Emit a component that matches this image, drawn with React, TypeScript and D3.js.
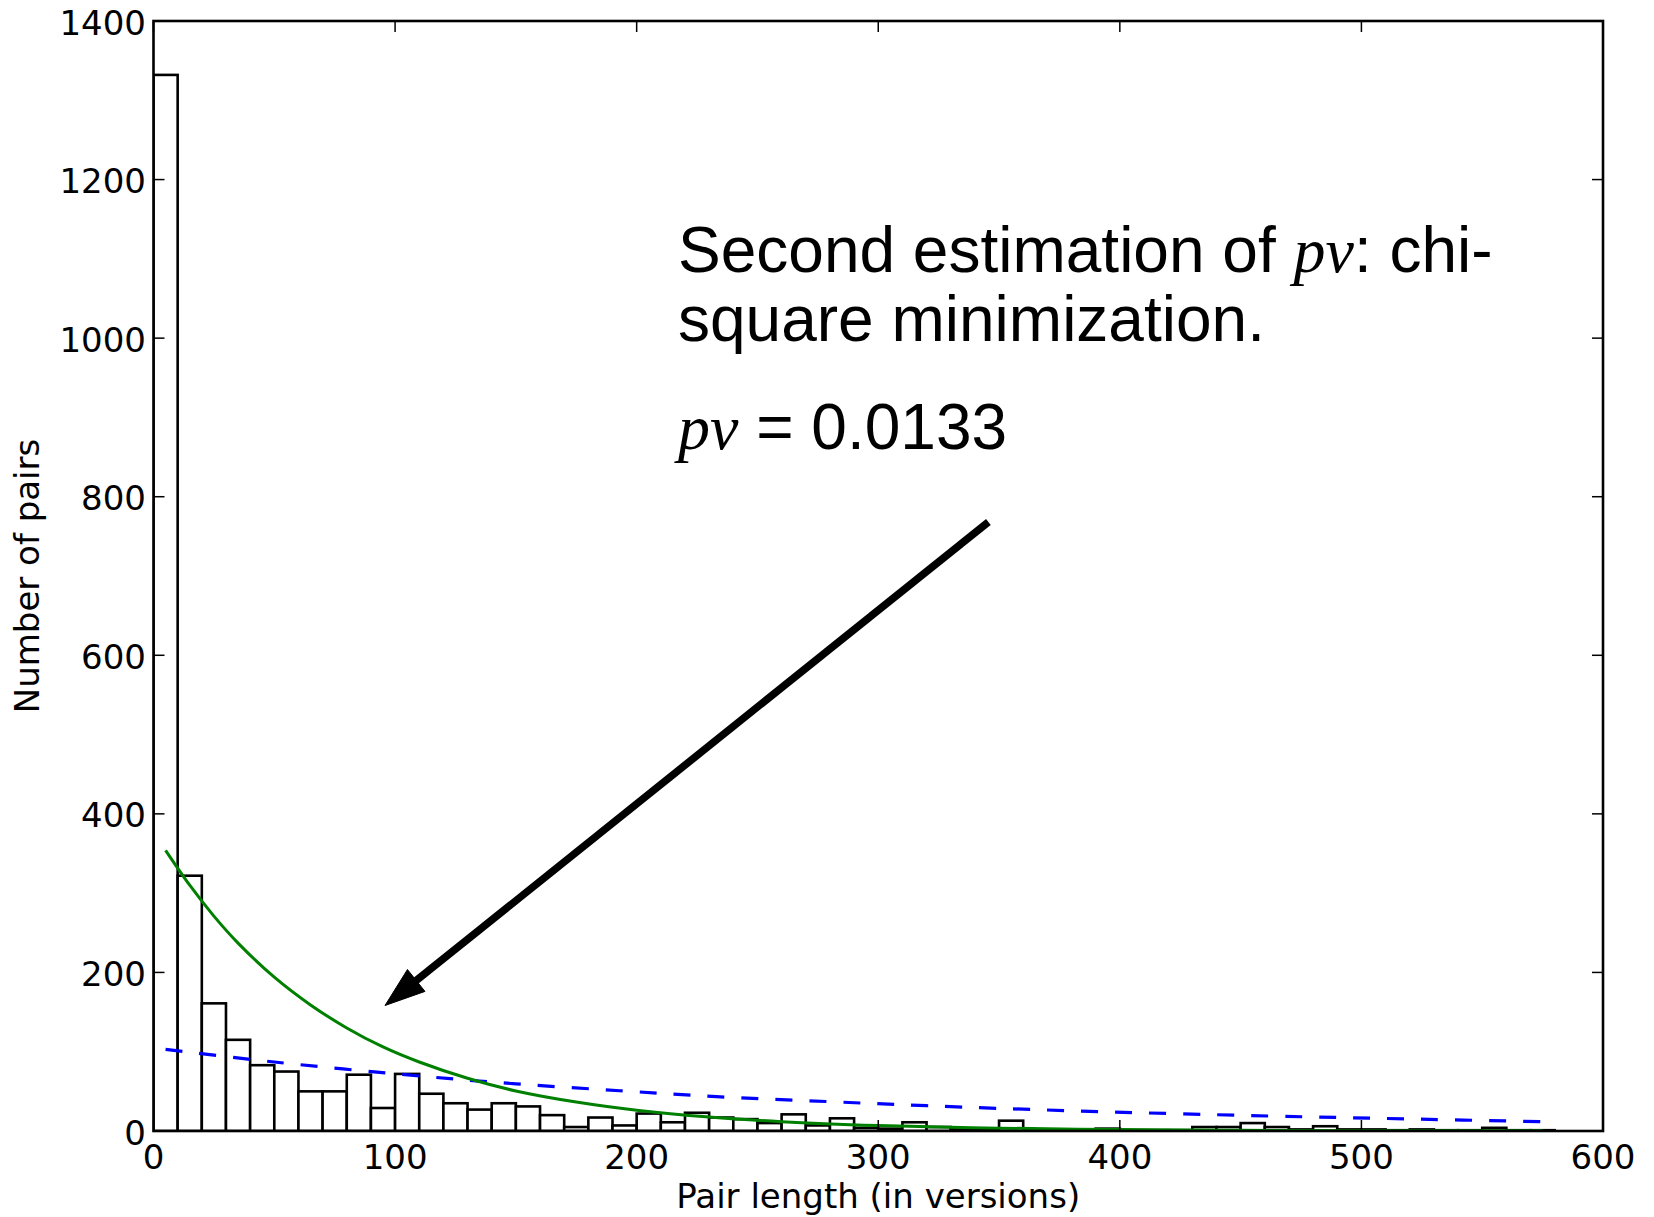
import React from "react";
import * as d3 from "d3";

// ---- data ----
const binWidth = 10;
const binCounts = [
  1332, 322, 161, 115, 83, 75, 50, 50, 71, 29,
  72, 47, 35, 27, 35, 31, 20, 5, 17, 7,
  22, 11, 23, 17, 15, 10, 21, 7, 16, 4,
  3, 11, 5, 3, 2, 13, 2, 1, 2, 3,
  1, 1, 1, 5, 5, 10, 5, 2, 6, 2,
  2, 1, 2, 1, 1, 4, 1, 1,
];

const chiX = [5, 15, 25, 35, 50, 65, 80, 95, 110, 130, 150, 175, 200, 230, 260, 300, 330, 350, 400, 450, 500, 575];
const chiY = [354, 310, 271, 237, 194, 159, 130, 106, 87, 66.5, 50.5, 36.5, 26.2, 17.6, 11.8, 6.9, 4.6, 3.6, 1.8, 0.93, 0.47, 0.17];

const firstX = [5, 50, 110, 150, 193, 233, 280, 320, 380, 462, 520, 575];
const firstY = [103, 87, 69.4, 59.5, 50.8, 43.3, 37.0, 31.9, 25.5, 18.9, 15.2, 11.7];

const xTicks = [0, 100, 200, 300, 400, 500, 600];
const yTicks = [0, 200, 400, 600, 800, 1000, 1200, 1400];

const xLabel = "Pair length (in versions)";
const yLabel = "Number of pairs";

// ---- layout ----
const W = 1654;
const H = 1217;
const left = 153.5;
const right = 1603;
const top = 21;
const bottom = 1131;

export default function App() {
  const x = d3.scaleLinear().domain([0, 600]).range([left, right]);
  const y = d3.scaleLinear().domain([0, 1400]).range([bottom, top]);

  const line = d3
    .line<[number, number]>()
    .x((d) => x(d[0]))
    .y((d) => y(d[1]))
    .curve(d3.curveCatmullRom.alpha(0.5));

  const chiPts = chiX.map((v, i) => [v, chiY[i]] as [number, number]);
  const firstPts = firstX.map((v, i) => [v, firstY[i]] as [number, number]);

  const tickFont = "'DejaVu Sans', sans-serif";
  const annFont = "'Liberation Sans', Arial, sans-serif";
  const italFont = "'Liberation Serif', 'Times New Roman', serif";

  // arrow geometry
  const tail: [number, number] = [988.4, 522];
  const tip: [number, number] = [385, 1005.5];
  const dx = tip[0] - tail[0];
  const dy = tip[1] - tail[1];
  const len = Math.hypot(dx, dy);
  const ux = dx / len;
  const uy = dy / len;
  const headLen = 40;
  const headHalf = 14;
  const bx = tip[0] - ux * headLen;
  const by = tip[1] - uy * headLen;
  const c1: [number, number] = [bx - uy * headHalf, by + ux * headHalf];
  const c2: [number, number] = [bx + uy * headHalf, by - ux * headHalf];

  return (
    <svg
      width={W}
      height={H}
      style={{ position: "absolute", left: 0, top: 0, background: "#fff" }}
    >
      <rect x={0} y={0} width={W} height={H} fill="#fff" />
      <defs>
        <clipPath id="plotClip">
          <rect x={left} y={top} width={right - left} height={bottom - top} />
        </clipPath>
      </defs>

      {/* histogram */}
      <g clipPath="url(#plotClip)">
        {binCounts.map((c, i) => {
          const x0 = x(i * binWidth);
          const x1 = x((i + 1) * binWidth);
          return (
            <rect
              key={i}
              x={x0}
              y={y(c)}
              width={x1 - x0}
              height={y(0) - y(c)}
              fill="#fff"
              stroke="#000"
              strokeWidth={2.6}
            />
          );
        })}
        <path
          d={line(firstPts) || ""}
          fill="none"
          stroke="#0000ff"
          strokeWidth={3.2}
          strokeDasharray="17,17"
        />
        <path d={line(chiPts) || ""} fill="none" stroke="#008000" strokeWidth={3} />
      </g>

      {/* ticks */}
      {xTicks.map((t) => (
        <g key={"xt" + t}>
          <line x1={x(t)} x2={x(t)} y1={bottom} y2={bottom - 11} stroke="#000" strokeWidth={1.5} />
          <line x1={x(t)} x2={x(t)} y1={top} y2={top + 11} stroke="#000" strokeWidth={1.5} />
          <text
            x={x(t)}
            y={1169}
            textAnchor="middle"
            fontFamily={tickFont}
            fontSize={34}
            fill="#000"
          >
            {t}
          </text>
        </g>
      ))}
      {yTicks.map((t) => (
        <g key={"yt" + t}>
          <line x1={left} x2={left + 11} y1={y(t)} y2={y(t)} stroke="#000" strokeWidth={1.5} />
          <line x1={right} x2={right - 11} y1={y(t)} y2={y(t)} stroke="#000" strokeWidth={1.5} />
          <text
            x={146}
            y={y(t)}
            dy="0.4em"
            textAnchor="end"
            fontFamily={tickFont}
            fontSize={34}
            fill="#000"
          >
            {t}
          </text>
        </g>
      ))}

      {/* frame */}
      <rect
        x={left}
        y={top}
        width={right - left}
        height={bottom - top}
        fill="none"
        stroke="#000"
        strokeWidth={2.6}
      />

      {/* axis labels */}
      <text
        x={(left + right) / 2}
        y={1208}
        textAnchor="middle"
        fontFamily={tickFont}
        fontSize={34}
        fill="#000"
      >
        {xLabel}
      </text>
      <text
        transform={`translate(39,${(top + bottom) / 2}) rotate(-90)`}
        textAnchor="middle"
        fontFamily={tickFont}
        fontSize={34}
        fill="#000"
      >
        {yLabel}
      </text>

      {/* annotation */}
      <text x={678} y={272} fontFamily={annFont} fontSize={64} fill="#000">
        Second estimation of{" "}
        <tspan fontFamily={italFont} fontStyle="italic">
          pv
        </tspan>
        : chi-
      </text>
      <text x={678} y={341} fontFamily={annFont} fontSize={64} fill="#000">
        square minimization.
      </text>
      <text x={678} y={449} fontFamily={annFont} fontSize={64} fill="#000">
        <tspan fontFamily={italFont} fontStyle="italic">
          pv
        </tspan>{" "}
        = 0.0133
      </text>

      {/* arrow */}
      <line x1={tail[0]} y1={tail[1]} x2={bx + ux * 2} y2={by + uy * 2} stroke="#000" strokeWidth={7.5} />
      <polygon
        points={`${tip[0]},${tip[1]} ${c1[0]},${c1[1]} ${c2[0]},${c2[1]}`}
        fill="#000"
        stroke="#000"
        strokeWidth={1}
      />
    </svg>
  );
}
